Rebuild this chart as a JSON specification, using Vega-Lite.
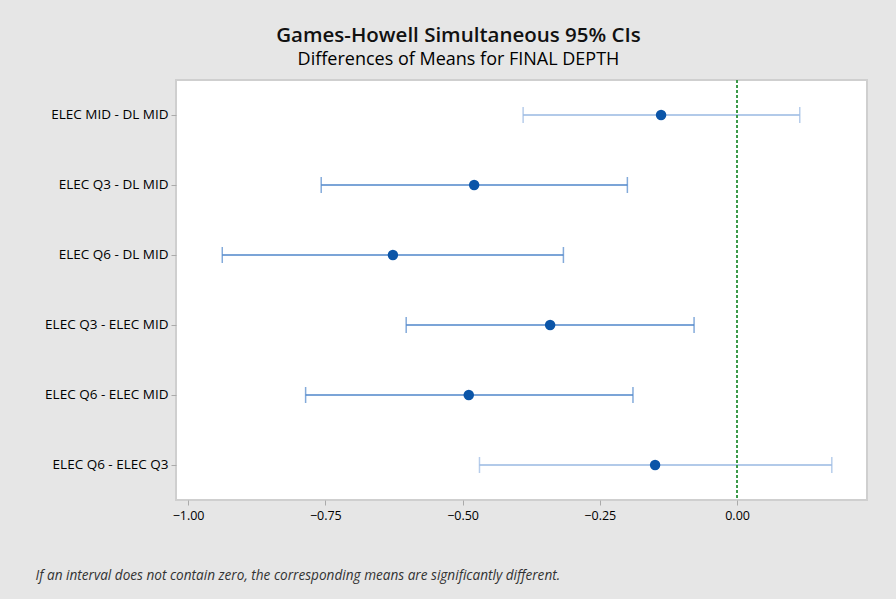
{
  "$schema": "https://vega.github.io/schema/vega-lite/v6.json",
  "autosize": {"type": "none"},
  "width": 691,
  "height": 420,
  "padding": {"left": 176, "top": 80, "right": 29, "bottom": 99},
  "background": "#e6e6e6",
  "title": {
    "text": "Games-Howell Simultaneous 95% CIs",
    "subtitle": "Differences of Means for FINAL DEPTH",
    "font": "Open Sans",
    "subtitleFont": "Open Sans",
    "fontSize": 20.5,
    "subtitleFontSize": 18,
    "fontWeight": 600,
    "subtitleFontWeight": "normal",
    "color": "#111111",
    "subtitleColor": "#000000",
    "anchor": "middle",
    "dx": -63,
    "offset": 10,
    "subtitlePadding": 5
  },
  "config": {
    "view": {"fill": "white", "stroke": "#cfcfcf", "strokeWidth": 2},
    "font": "Open Sans"
  },
  "data": {
    "values": [
      {"pair": "ELEC MID - DL MID", "lower": -0.3897, "mean": -0.1384, "upper": 0.1142, "containsZero": "yes"},
      {"pair": "ELEC Q3 - DL MID", "lower": -0.7575, "mean": -0.4789, "upper": -0.1998, "containsZero": "no"},
      {"pair": "ELEC Q6 - DL MID", "lower": -0.9377, "mean": -0.6269, "upper": -0.3163, "containsZero": "no"},
      {"pair": "ELEC Q3 - ELEC MID", "lower": -0.6027, "mean": -0.3405, "upper": -0.0783, "containsZero": "no"},
      {"pair": "ELEC Q6 - ELEC MID", "lower": -0.7859, "mean": -0.4887, "upper": -0.1896, "containsZero": "no"},
      {"pair": "ELEC Q6 - ELEC Q3", "lower": -0.4692, "mean": -0.1493, "upper": 0.1726, "containsZero": "yes"}
    ]
  },
  "encoding": {
    "y": {
      "field": "pair",
      "type": "nominal",
      "sort": null,
      "scale": {"type": "band", "paddingInner": 0, "paddingOuter": 0},
      "axis": {
        "title": null,
        "domain": false,
        "labelFontSize": 13.5,
        "labelFontWeight": "normal",
        "labelColor": "#000000",
        "tickSize": 5,
        "tickColor": "#aaaaaa",
        "labelPadding": 3
      }
    }
  },
  "layer": [
    {
      "mark": {"type": "rule", "strokeWidth": 1.5},
      "encoding": {
        "x": {
          "field": "lower",
          "type": "quantitative",
          "scale": {"domain": [-1.022, 0.2367], "nice": false, "zero": false},
          "axis": {
            "values": [-1, -0.75, -0.5, -0.25, 0],
            "format": ".2f",
            "grid": false,
            "domain": false,
            "labelFontSize": 12.5,
            "labelColor": "#000000",
            "tickSize": 5,
            "tickColor": "#aaaaaa",
            "labelPadding": 4,
            "title": "If an interval does not contain zero, the corresponding means are significantly different.",
            "titleFontStyle": "italic",
            "titleFontWeight": "normal",
            "titleFontSize": 13.6,
            "titleColor": "#333333",
            "titleAnchor": "start",
            "titleAlign": "left",
            "titleBaseline": "middle",
            "titleX": -141,
            "titleY": 75
          }
        },
        "x2": {"field": "upper"},
        "color": {
          "field": "containsZero",
          "type": "nominal",
          "scale": {"domain": ["no", "yes"], "range": ["#4f86ca", "#98b8e2"]},
          "legend": null
        }
      }
    },
    {
      "mark": {"type": "tick", "orient": "vertical", "size": 16, "thickness": 1.5},
      "encoding": {
        "x": {"field": "lower", "type": "quantitative"},
        "color": {"field": "containsZero", "type": "nominal", "legend": null}
      }
    },
    {
      "mark": {"type": "tick", "orient": "vertical", "size": 16, "thickness": 1.5},
      "encoding": {
        "x": {"field": "upper", "type": "quantitative"},
        "color": {"field": "containsZero", "type": "nominal", "legend": null}
      }
    },
    {
      "mark": {"type": "rule", "color": "#3c9a4a", "strokeDash": [3, 2], "strokeWidth": 1.2},
      "encoding": {"x": {"datum": 0}, "y": null}
    },
    {
      "mark": {"type": "point", "filled": true, "size": 110, "color": "#0b55a8", "opacity": 1},
      "encoding": {"x": {"field": "mean", "type": "quantitative"}}
    }
  ]
}
